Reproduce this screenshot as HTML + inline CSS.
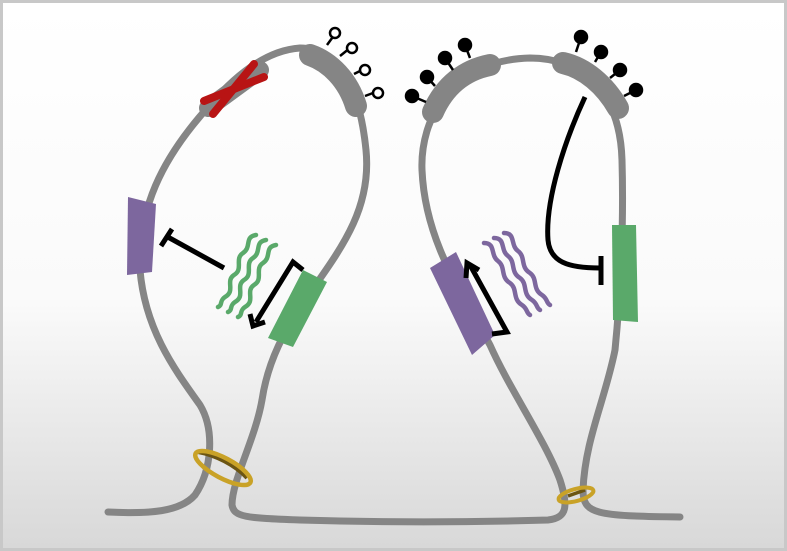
<!DOCTYPE html>
<html><head><style>
html,body{margin:0;padding:0;width:787px;height:551px;overflow:hidden;}
</style></head><body>
<svg width="787" height="551" viewBox="0 0 787 551" xmlns="http://www.w3.org/2000/svg">
<defs>
<linearGradient id="bg" x1="0" y1="0" x2="0" y2="1">
<stop offset="0" stop-color="#ffffff"/><stop offset="0.55" stop-color="#fafafa"/><stop offset="1" stop-color="#d8d8d8"/>
</linearGradient>
<path id="wv" d="M0,0 C-12,2 -4,12 -13,18 C-22,24 -12,34 -22,40 C-31,46 -20,56 -31,62 C-37,66 -33,70 -38,72" fill="none"/>
<path id="wvp" d="M0,0 C12,0 6,12 14,18 C22,24 16,34 26,40 C34,46 28,56 38,62 C44,66 42,70 46,72" fill="none"/>
</defs>
<rect x="0" y="0" width="787" height="551" fill="#c8c8c8"/>
<rect x="3" y="3" width="781" height="545" fill="url(#bg)"/>
<g fill="none" stroke="#858585" stroke-width="7" stroke-linecap="round">
<path d="M108,512 C150,514 180,512 195,495 C212,470 215,430 200,405 C175,370 145,330 140,270 C138,210 160,160 210,105 C240,70 270,50 300,48 C340,48 360,90 366,150 C372,210 340,250 305,300 C285,330 268,360 262,400 C255,440 232,480 232,505 C234,517 245,518 300,520 C400,523 480,522 548,520 C568,518 568,505 560,480 C545,440 510,390 490,345 C460,290 425,240 422,170 C420,120 450,60 530,58 C580,58 620,90 622,160 C624,230 620,300 615,350 C605,400 585,440 583,490 C583,514 595,516 680,517"/>
</g>
<path d="M208,108 L260,70" stroke="#858585" stroke-width="18" stroke-linecap="round"/>
<g stroke="#b81414" stroke-width="8" stroke-linecap="round">
<path d="M204,101 L264,77"/>
<path d="M213,114 L254,64"/>
</g>
<g stroke="#858585" stroke-width="22" stroke-linecap="round" fill="none">
<path d="M310,55 C330,62 348,80 356,106"/>
<path d="M433,112 C445,85 465,70 490,65"/>
<path d="M563,63 C585,68 605,85 618,108"/>
</g>
<g stroke="#000" stroke-width="2.5" fill="#fff">
<line x1="327" y1="45" x2="335" y2="34"/><circle cx="335" cy="33" r="5"/>
<line x1="340" y1="56" x2="350" y2="48"/><circle cx="352" cy="48" r="5"/>
<line x1="354" y1="74" x2="362" y2="70"/><circle cx="365" cy="70" r="5"/>
<line x1="365" y1="96" x2="373" y2="93"/><circle cx="378" cy="93" r="5"/>
</g>
<g stroke="#000" stroke-width="2.5" fill="#000">
<line x1="412" y1="96" x2="426" y2="102"/><circle cx="412" cy="96" r="6"/>
<line x1="427" y1="77" x2="435" y2="86"/><circle cx="427" cy="77" r="6"/>
<line x1="445" y1="58" x2="453" y2="70"/><circle cx="445" cy="58" r="6"/>
<line x1="465" y1="45" x2="470" y2="58"/><circle cx="465" cy="45" r="6"/>
<line x1="581" y1="37" x2="576" y2="52"/><circle cx="581" cy="37" r="6"/>
<line x1="601" y1="52" x2="595" y2="62"/><circle cx="601" cy="52" r="6"/>
<line x1="620" y1="70" x2="610" y2="78"/><circle cx="620" cy="70" r="6"/>
<line x1="636" y1="90" x2="624" y2="96"/><circle cx="636" cy="90" r="6"/>
</g>
<path d="M128,197 L156,204 L152,272 L127,275 Z" fill="#7d679e"/>
<path d="M303,270 L327,282 L293,347 L268,338 Z" fill="#5aa96a"/>
<path d="M430,268 L456,252 L495,335 L472,355 Z" fill="#7d679e"/>
<path d="M612,225 L636,225 L638,322 L613,320 Z" fill="#5aa96a"/>
<g stroke="#000" stroke-width="5" fill="none">
<line x1="224" y1="268" x2="166" y2="236"/>
<line x1="172" y1="229" x2="161" y2="246"/>
<path d="M303,270 L293,262 L256,322"/>
<path d="M250,314 L253,326 L265,322"/>
<path d="M492,334 L507,332 L470,265"/>
<path d="M466,278 L467,263 L479,270"/>
<path d="M585,97 C565,140 545,200 548,240 C550,262 568,268 600,268"/>
<line x1="601" y1="256" x2="601" y2="285"/>
</g>
<g stroke="#5aa96a" stroke-width="4.5" stroke-linecap="round">
<use href="#wv" x="256" y="235"/>
<use href="#wv" x="266" y="240"/>
<use href="#wv" x="276" y="245"/>
</g>
<g stroke="#7d679e" stroke-width="4.5" stroke-linecap="round">
<use href="#wvp" x="484" y="243"/>
<use href="#wvp" x="494" y="238"/>
<use href="#wvp" x="504" y="233"/>
</g>
<path d="M198,452 C215,455 235,465 247,478" stroke="#6b5513" stroke-width="4" fill="none"/>
<ellipse cx="223" cy="468" rx="31" ry="10" transform="rotate(28 223 468)" fill="none" stroke="#c9a227" stroke-width="4.5"/>
<path d="M568,496 L585,490" stroke="#6b5513" stroke-width="3.5"/>
<ellipse cx="576" cy="495" rx="18" ry="6" transform="rotate(-15 576 495)" fill="none" stroke="#c9a227" stroke-width="4"/>
</svg>
</body></html>
